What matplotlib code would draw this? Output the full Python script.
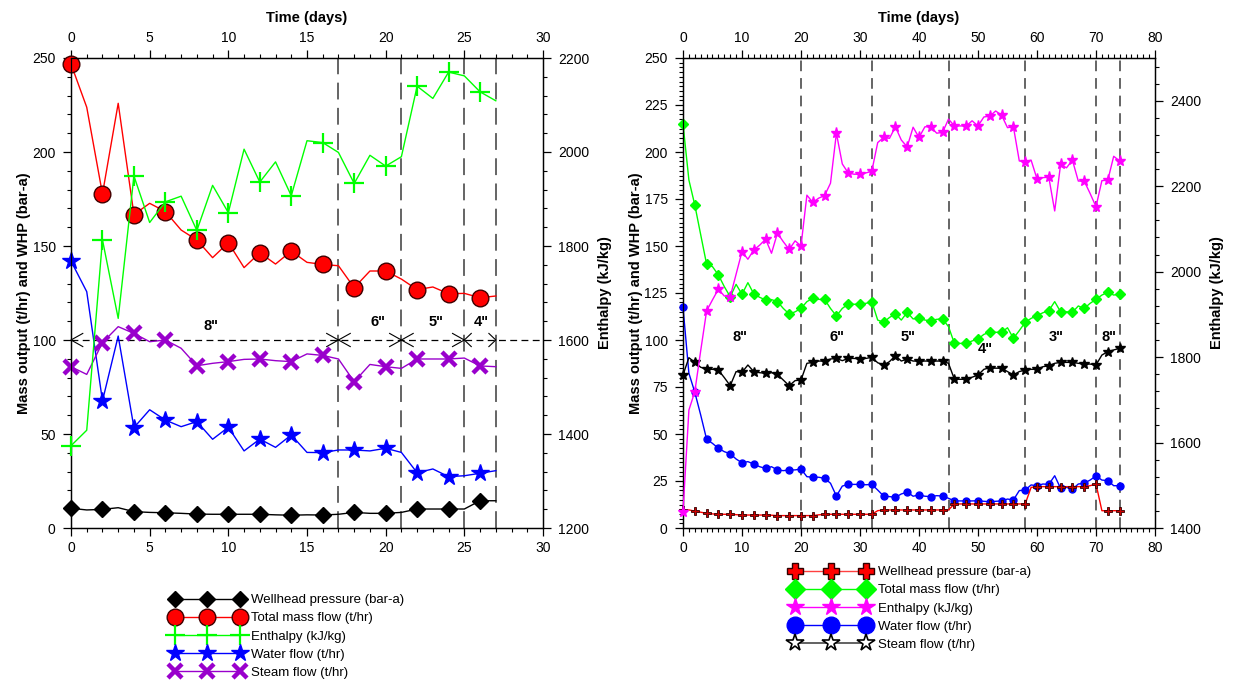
import matplotlib
matplotlib.use("Agg")
import matplotlib.pyplot as plt
from matplotlib.lines import Line2D
from matplotlib.ticker import MultipleLocator
import numpy as np

plt.rcParams['font.family'] = ['Liberation Sans', 'DejaVu Sans']

# ---------------- Left chart data ----------------
days_L = list(range(28))
whp_L = [10.5, 9.6, 9.9, 10.8, 8.7, 8.3, 8.1, 7.8, 7.4, 7.3, 7.3, 7.3, 7.3, 7.0,
         6.8, 7.0, 6.9, 7.3, 8.3, 7.8, 7.8, 8.3, 10.1, 10.1, 10.1, 10.1, 14.5, 14.5]
mass_L = [246.8, 223.8, 177.7, 225.9, 166.7, 172.7, 168.3, 158.5, 153.2, 143.8,
          151.8, 138.5, 146.4, 140.4, 147.3, 141.3, 140.2, 139.5, 127.8, 136.7,
          136.7, 132.4, 126.8, 128.2, 124.6, 124.8, 122.5, 123.4]
enth_L = [1375, 1408, 1813, 1646, 1949, 1850, 1894, 1906, 1833, 1929, 1871, 2006,
          1936, 1979, 1907, 2024, 2020, 1999, 1933, 1993, 1970, 1990, 2140, 2114,
          2170, 2162, 2128, 2109]
water_L = [142.0, 125.7, 67.6, 102.1, 53.4, 62.9, 57.4, 53.9, 56.6, 47.2, 53.6, 41.0,
           47.3, 42.9, 49.5, 40.2, 40.1, 41.5, 41.5, 41.0, 42.4, 40.2, 29.4, 31.4,
           27.3, 27.8, 29.1, 30.5]
steam_L = [85.8, 81.7, 98.6, 107.1, 103.5, 99.1, 100.0, 95.6, 86.3, 87.6, 88.5, 89.7,
           89.9, 89.0, 88.5, 92.6, 91.8, 89.9, 77.8, 87.0, 85.8, 84.9, 89.9, 89.9,
           89.9, 90.4, 86.2, 85.8]
bounds_L = [0, 17, 21, 25, 27]
pipes_L = ['8"', '6"', '5"', '4"']
pipe_x_L = [8.9, 19.5, 23.2, 26.1]
pipe_y_L = [107.5, 109.5, 109.5, 109.5]

# ---------------- Right chart data ----------------
days_R = list(range(75))
whp_R = [9.6, 9.6, 9.0, 8.4, 7.8, 7.5, 7.3, 7.3, 7.3, 7.1,
         6.9, 6.9, 6.9, 6.9, 6.9, 6.8, 6.6, 6.6, 6.6, 6.6,
         6.6, 6.6, 6.6, 7.0, 7.3, 7.3, 7.3, 7.3, 7.3, 7.3,
         7.3, 7.3, 7.3, 9.2, 9.6, 9.6, 9.6, 9.6, 9.6, 9.6,
         9.6, 9.6, 9.6, 9.6, 9.6, 9.6, 12.8, 12.8, 12.8, 12.8,
         12.8, 12.8, 12.8, 12.8, 12.8, 12.8, 12.8, 12.8, 12.8, 21.6,
         22.0, 22.0, 22.0, 22.0, 22.0, 22.0, 22.0, 22.0, 22.0, 22.5,
         23.4, 9.2, 9.2, 9.2, 9.2]
mass_R = [214.9, 185.1, 171.8, 156.0, 140.3, 139.0, 134.6, 128.4, 123.0, 129.6,
          124.3, 130.5, 124.5, 122.7, 121.3, 121.5, 120.4, 116.8, 113.8, 115.0,
          116.8, 120.4, 122.2, 121.6, 121.6, 116.8, 112.8, 116.8, 119.1, 119.0,
          119.1, 119.5, 120.4, 110.6, 109.4, 112.0, 113.8, 110.6, 114.7, 111.2,
          111.9, 110.6, 110.3, 111.0, 111.2, 107.1, 98.2, 98.2, 98.2, 99.5,
          100.5, 103.0, 104.1, 104.1, 104.1, 106.5, 100.9, 105.0, 109.4, 111.5,
          112.9, 114.5, 115.6, 120.4, 115.0, 115.0, 114.7, 118.1, 116.8, 119.5,
          121.6, 123.9, 125.4, 123.9, 124.5]
enth_R = [1438, 1676, 1719, 1815, 1908, 1934, 1959, 1943, 1941, 1994,
          2047, 2029, 2051, 2062, 2076, 2043, 2090, 2070, 2052, 2072,
          2060, 2179, 2162, 2172, 2178, 2207, 2324, 2252, 2231, 2228,
          2228, 2231, 2235, 2302, 2314, 2312, 2339, 2308, 2292, 2338,
          2314, 2339, 2339, 2324, 2326, 2357, 2341, 2341, 2341, 2353,
          2341, 2362, 2364, 2376, 2366, 2337, 2339, 2259, 2257, 2261,
          2217, 2220, 2221, 2142, 2251, 2243, 2261, 2212, 2212, 2183,
          2152, 2213, 2214, 2270, 2259]
water_R = [117.4, 82.3, 72.2, 60.1, 47.2, 45.0, 42.4, 40.6, 39.5, 36.7,
           34.7, 35.3, 34.0, 32.6, 31.7, 32.6, 30.9, 30.5, 30.9, 30.9,
           31.4, 27.3, 27.0, 27.0, 26.4, 23.8, 17.0, 22.3, 23.2, 23.2,
           23.2, 23.0, 23.2, 20.2, 17.0, 16.7, 16.3, 18.1, 19.1, 16.9,
           17.6, 16.9, 16.7, 17.2, 17.0, 15.8, 14.4, 14.4, 14.4, 14.4,
           14.5, 14.2, 14.0, 14.2, 14.4, 15.4, 14.9, 19.9, 20.2, 22.9,
           22.5, 23.4, 23.2, 27.8, 21.1, 21.6, 20.6, 23.4, 23.8, 25.5,
           27.7, 25.5, 25.2, 22.5, 22.5]
steam_R = [81.4, 90.6, 88.1, 85.5, 84.4, 84.4, 84.0, 80.0, 75.7, 83.2,
           82.8, 86.7, 83.2, 82.6, 82.3, 82.6, 81.7, 78.7, 75.7, 78.4,
           78.7, 87.6, 88.1, 88.8, 88.8, 89.9, 90.2, 89.0, 90.2, 90.2,
           89.9, 90.2, 90.8, 87.9, 86.7, 88.5, 91.7, 88.8, 89.9, 88.8,
           88.8, 88.8, 88.8, 88.8, 88.8, 87.6, 79.1, 79.1, 79.1, 80.2,
           81.4, 84.4, 85.3, 85.0, 85.0, 83.2, 81.4, 83.2, 84.0, 84.4,
           84.4, 85.8, 86.3, 87.6, 88.1, 88.1, 88.1, 87.6, 87.2, 87.2,
           86.7, 92.0, 93.8, 94.7, 95.6]
bounds_R = [0, 20, 32, 45, 58, 70, 74]
pipes_R = ['8"', '6"', '5"', '4"', '3"', '8"']
pipe_x_R = [9.6, 26.1, 38.2, 51.3, 63.2, 72.2]
pipe_y_R = [101.5, 101.5, 101.5, 95.0, 101.5, 101.5]

labels = ['Wellhead pressure (bar-a)', 'Total mass flow (t/hr)', 'Enthalpy (kJ/kg)',
          'Water flow (t/hr)', 'Steam flow (t/hr)']

W, H = 1233, 682
fig = plt.figure(figsize=(W / 100, H / 100), dpi=100)

def fx(px):
    return px / W

def fy(py):
    return 1 - py / H

TICK_FS = 10
LAB_FS = 10.5


def style_axes(ax, ax2, xmax, xmaj, xmin, ymaj, ymin, e0, e1, emaj, emin):
    ax.set_xlim(0, xmax)
    ax.set_ylim(0, 250)
    ax2.set_ylim(e0, e1)
    ax.xaxis.set_major_locator(MultipleLocator(xmaj))
    ax.xaxis.set_minor_locator(MultipleLocator(xmin))
    ax.yaxis.set_major_locator(MultipleLocator(ymaj))
    ax.yaxis.set_minor_locator(MultipleLocator(ymin))
    ax2.yaxis.set_major_locator(MultipleLocator(emaj))
    ax2.yaxis.set_minor_locator(MultipleLocator(emin))
    ax.tick_params(axis='x', which='both', direction='out', top=True, labeltop=True,
                   bottom=True, labelbottom=True, labelsize=TICK_FS, pad=3)
    ax.tick_params(axis='y', which='both', direction='out', right=False,
                   labelsize=TICK_FS, pad=5)
    ax2.tick_params(axis='y', which='both', direction='out', labelsize=TICK_FS, pad=5)
    for a in (ax, ax2):
        a.tick_params(which='major', length=6, width=0.9)
        a.tick_params(which='minor', length=3, width=0.8)
        for s in a.spines.values():
            s.set_linewidth(0.9)
    ax.set_xlabel('Time (days)', fontsize=LAB_FS, fontweight='bold', labelpad=7)
    ax.xaxis.set_label_position('top')
    ax.set_ylabel('Mass output (t/hr) and WHP (bar-a)', fontsize=LAB_FS,
                  fontweight='bold', labelpad=1)
    ax2.set_ylabel('Enthalpy (kJ/kg)', fontsize=LAB_FS, fontweight='bold', labelpad=6)


# ================= LEFT CHART =================
axL = fig.add_axes([fx(71), fy(528), fx(543 - 71), (528 - 58) / H])
axL2 = axL.twinx()
style_axes(axL, axL2, 30, 5, 1, 50, 10, 1200, 2200, 200, 40)

# segment lines
for b in bounds_L[1:]:
    axL.axvline(b, color='#3a3a3a', lw=1.1, dashes=(11, 5.5), zorder=1)
axL.axhline(100, color='black', lw=0.9, dashes=(5.5, 3.5), zorder=1)
# dimension arrow heads
for i in range(len(bounds_L) - 1):
    a, b = bounds_L[i], bounds_L[i + 1]
    hl = min(0.75, 0.22 * (b - a))
    hw = 3.5
    axL.plot([a + hl, a, a + hl], [100 + hw, 100, 100 - hw], color='black', lw=0.8,
             zorder=2, clip_on=False)
    axL.plot([b - hl, b, b - hl], [100 + hw, 100, 100 - hw], color='black', lw=0.8,
             zorder=2, clip_on=False)
for t, x, y in zip(pipes_L, pipe_x_L, pipe_y_L):
    axL.text(x, y, t, ha='center', va='center', fontsize=10.5, fontweight='bold')

hL = []
hL.append(axL.plot(days_L, whp_L, color='black', lw=1.0, marker='D', markersize=8,
                   markerfacecolor='black', markeredgecolor='black', markevery=2,
                   clip_on=False, zorder=3)[0])
hL.append(axL.plot(days_L, mass_L, color='#ff0000', lw=1.0, marker='o', markersize=12,
                   markerfacecolor='#ff0000', markeredgecolor='#400000',
                   markeredgewidth=1.0, markevery=2, clip_on=False, zorder=3)[0])
hL_enth = axL2.plot(days_L, enth_L, color='#00ff00', lw=1.0, marker='+', markersize=14,
                    markeredgewidth=1.6, markevery=2, clip_on=False, zorder=3)[0]
hL.append(hL_enth)
hL.append(axL.plot(days_L, water_L, color='#0000ff', lw=1.0, marker='*', markersize=13,
                   markerfacecolor='#0000ff', markeredgecolor='#0000ff', markevery=2,
                   clip_on=False, zorder=3)[0])
hL.append(axL.plot(days_L, steam_L, color='#9900cc', lw=1.0, marker='x', markersize=10,
                   markeredgewidth=3.2, markevery=2, clip_on=False, zorder=3)[0])

fig.legend(hL, labels, loc='upper left', bbox_to_anchor=(fx(171), fy(594)),
           frameon=False, numpoints=3, handlelength=5.5, handletextpad=0.6,
           labelspacing=0.45, borderpad=0, borderaxespad=0, fontsize=9.5)

# ================= RIGHT CHART =================
axR = fig.add_axes([fx(683), fy(528), fx(1155 - 683), (528 - 58) / H])
axR2 = axR.twinx()
style_axes(axR, axR2, 80, 10, 1, 25, 2.5, 1400, 2500, 200, 40)

for b in bounds_R[1:]:
    axR.axvline(b, color='#3a3a3a', lw=1.1, dashes=(7, 4.5), zorder=1)
for t, x, y in zip(pipes_R, pipe_x_R, pipe_y_R):
    axR.text(x, y, t, ha='center', va='center', fontsize=10.5, fontweight='bold')

axR.plot(days_R, whp_R, color='#ff0000', lw=1.0, marker='P', markersize=6,
         markerfacecolor='#cc0000', markeredgecolor='#300000', markeredgewidth=0.6,
         markevery=2, clip_on=False, zorder=4)
axR.plot(days_R, mass_R, color='#00ff00', lw=1.0, marker='D', markersize=5,
         markerfacecolor='#00ff00', markeredgecolor='#00ff00', markevery=2,
         clip_on=False, zorder=3)
axR2.plot(days_R, enth_R, color='#ff00ff', lw=1.0, marker='*', markersize=8,
          markerfacecolor='#ff00ff', markeredgecolor='#ff00ff', markevery=2,
          clip_on=False, zorder=3)
axR.plot(days_R, water_R, color='#0000ff', lw=1.0, marker='o', markersize=5,
         markerfacecolor='#0000ff', markeredgecolor='#0000ff', markevery=2,
         clip_on=False, zorder=3)
axR.plot(days_R, steam_R, color='black', lw=1.0, marker='*', markersize=7,
         markerfacecolor='black', markeredgecolor='black', markevery=2,
         clip_on=False, zorder=3)

hR = [
    Line2D([], [], color='#ff4040', lw=1.0, marker='P', markersize=12,
           markerfacecolor='#ff0000', markeredgecolor='#300000', markeredgewidth=1.0),
    Line2D([], [], color='#00ff00', lw=1.0, marker='D', markersize=10,
           markerfacecolor='#00ff00', markeredgecolor='#00ff00'),
    Line2D([], [], color='#ff00ff', lw=1.0, marker='*', markersize=13,
           markerfacecolor='#ff00ff', markeredgecolor='#ff00ff'),
    Line2D([], [], color='#0000ff', lw=1.0, marker='o', markersize=12,
           markerfacecolor='#0000ff', markeredgecolor='#0000ff'),
    Line2D([], [], color='#555555', lw=1.3, marker='*', markersize=13,
           markerfacecolor='white', markeredgecolor='black', markeredgewidth=1.2),
]
fig.legend(hR, labels, loc='upper left', bbox_to_anchor=(fx(791), fy(566)),
           frameon=False, numpoints=3, handlelength=6.0, handletextpad=0.6,
           labelspacing=0.45, borderpad=0, borderaxespad=0, fontsize=9.5)

fig.savefig('out.png', dpi=100)
